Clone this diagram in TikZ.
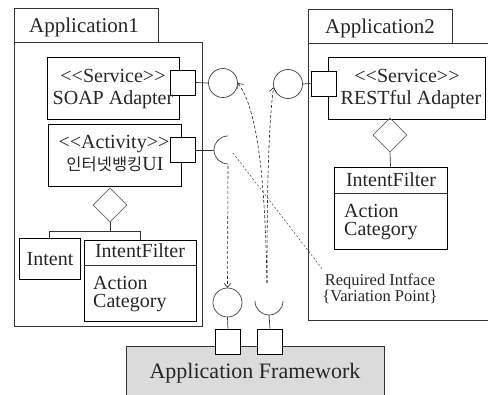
\documentclass[tikz,border=0pt]{standalone}
\usepackage{fontspec}
\setmainfont{Liberation Serif}
\newfontfamily\krfont{Noto Sans CJK KR}
\usetikzlibrary{shapes.geometric,arrows.meta}

\tikzset{
  frame/.style={draw=black!80, line width=0.8pt, inner sep=0pt},
  comp/.style={draw=black, line width=0.7pt, inner sep=0pt},
  port/.style={draw=black, fill=white, line width=0.7pt, minimum size=25pt, inner sep=0pt},
  provided/.style={circle, draw=black!75, line width=0.7pt, minimum size=29pt, inner sep=0pt},
  agg/.style={diamond, draw=black!60, line width=0.7pt, minimum size=34pt, inner sep=0pt},
  wire/.style={draw=black!80, line width=0.7pt},
  dep/.style={draw=black!85, line width=0.6pt, dash pattern=on 3pt off 2pt, -{Straight Barb[length=4pt,width=7pt]}},
  note/.style={draw=black!75, line width=0.5pt, dash pattern=on 2pt off 2pt},
  lbl/.style={font=\fontsize{20}{24}\selectfont, text=black!85, inner sep=0pt, anchor=base},
  attrs/.style={font=\fontsize{20}{18}\selectfont, text=black!85, inner sep=0pt, anchor=base west, align=left},
}

\begin{document}
\begin{tikzpicture}[x=1pt,y=-1pt]
\useasboundingbox (0,0) rectangle (488,395);
\clip (0,0) rectangle (488,395);

% ---- Application1 package ----
\node[frame, minimum width=144pt, minimum height=34pt] (t1) at (86,25) {};
\node[lbl, font=\fontsize{21}{24}\selectfont] at (84,33) {Application1};
\node[frame, minimum width=188pt, minimum height=284pt] (a1) at (108,184) {};

% SOAP adapter service
\node[comp, minimum width=132pt, minimum height=62pt] (soap) at (113,88) {};
\node[port] (ps) at (182.5,82.5) {};
\node[lbl] at (113,83) {<{}<Service>{}>};
\node[lbl] at (113,105) {SOAP Adapter};
\node[provided] (cs) at (223,83) {};
\draw[wire] (ps.east) -- (cs.west);

% Internet banking activity
\node[comp, minimum width=133pt, minimum height=62pt] (act) at (114.5,155) {};
\node[port] (pa) at (183,150) {};
\node[lbl] at (114,149) {<{}<Activity>{}>};
\node[lbl] at (115,171) {{\krfont\fontsize{16.5}{20}\selectfont 인터넷뱅킹}UI};
\coordinate (ra) at (228,150);
\draw[wire] (pa.east) -- (214,150);
\draw[draw=black!75, line width=0.7pt] (228,136) arc[start angle=90, end angle=270, radius=14pt];

% aggregation below the activity
\node[agg] (d1) at (110,205) {};
\node[comp, minimum width=61pt, minimum height=41pt] (intent) at (49.5,259) {};
\node[lbl] at (50,266) {Intent};
\node[comp, minimum width=112pt, minimum height=81pt] (if1) at (140,280.5) {};
\draw[wire] (if1.north west |- 0,265) -- (if1.north east |- 0,265);
\node[lbl] at (140,258) {IntentFilter};
\node[attrs] at (93,308) {Action\\Category};
\draw[wire] (d1.south) -- (110,231) -- (49,231) -- (intent.north -| 49,0);
\draw[wire] (110,231) -- (140,231) -- (if1.north);

% ---- Application2 package ----
\node[frame, minimum width=144pt, minimum height=34pt] (t2) at (380,26) {};
\node[lbl, font=\fontsize{21}{24}\selectfont] at (380,34) {Application2};
\node[frame, minimum width=220pt, minimum height=277pt] (a2) at (418,181.5) {};

% RESTful adapter service
\node[comp, minimum width=157pt, minimum height=62pt] (rest) at (406.5,88) {};
\node[port] (pr) at (323.5,83.5) {};
\node[lbl] at (407,83) {<{}<Service>{}>};
\node[lbl] at (411,105) {RESTful Adapter};
\node[provided] (cr) at (288,84) {};
\draw[wire] (pr.west) -- (cr.east);

\node[agg] (d2) at (390,135) {};
\node[comp, minimum width=113pt, minimum height=82pt] (if2) at (390.5,208) {};
\draw[wire] (if2.north west |- 0,193) -- (if2.north east |- 0,193);
\node[lbl] at (391,187) {IntentFilter};
\node[attrs] at (344,236) {Action\\Category};
\draw[wire] (d2.south) -- (if2.north);

% ---- Application Framework ----
\node[draw=black!80, fill=black!14, line width=0.8pt, minimum width=258pt, minimum height=70pt] (fw) at (255,381) {};
\node[lbl, font=\fontsize{22}{26}\selectfont] at (255,379) {Application Framework};
\node[port] (pf1) at (228,341.5) {};
\node[port] (pf2) at (270,341.5) {};
\node[provided] (cf) at (227.5,302.5) {};
\draw[wire] (pf1.north) -- (cf.south);
\draw[draw=black!75, line width=0.7pt] (255,301) arc[start angle=180, end angle=360, radius=14pt];
\coordinate (rf) at (269,301);
\draw[wire] (pf2.north) -- (269,315);

% ---- dependencies ----
\coordinate (rfu) at (267,283);
\draw[dep] (228,166) -- (cf.north);
\draw[dep] (rfu) .. controls (267,200) and (268,130) .. (cr.193);
\draw[dep] (rfu) .. controls (265,180) and (258,110) .. (cs.east);

% variation point note
\coordinate (vp) at (233,153);
\node[font=\fontsize{16.5}{16}\selectfont, text=black!85, inner sep=0pt, anchor=base, align=center] (vn) at (380,302) {Required Intface\\\{Variation Point\}};
\draw[note] (vp) -- (323,270);
\end{tikzpicture}
\end{document}
